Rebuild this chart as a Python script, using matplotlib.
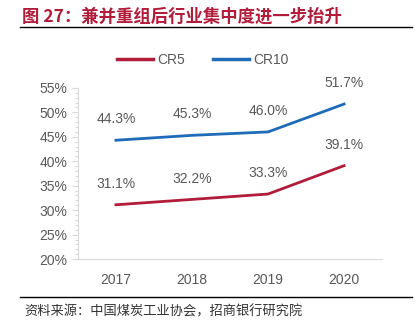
import matplotlib
matplotlib.use("Agg")
import matplotlib.pyplot as plt
from matplotlib.ticker import MultipleLocator, FuncFormatter
from matplotlib.lines import Line2D

plt.rcParams['font.family'] = ['Liberation Sans', 'Noto Sans CJK SC', 'DejaVu Sans']

# --- 数据 ---
years = ["2017", "2018", "2019", "2020"]
cr5 = [31.1, 32.2, 33.3, 39.1]
cr10 = [44.3, 45.3, 46.0, 51.7]

RED = "#B01C3A"
BLUE = "#1F6BB8"
GREY = "#595959"

fig = plt.figure(figsize=(4.19, 3.33), dpi=100)
ax = fig.add_axes([0.186, 0.222, 0.726, 0.514])

x = list(range(len(years)))
ax.plot(x, cr5, color=RED, lw=2, label="CR5")
ax.plot(x, cr10, color=BLUE, lw=2, label="CR10")

for xi, v in zip(x, cr5):
    ax.annotate(f"{v:.1f}%", (xi, v), xytext=(0, 10), textcoords="offset points",
                ha="center", va="bottom", fontsize=10, color=GREY)
for xi, v in zip(x, cr10):
    ax.annotate(f"{v:.1f}%", (xi, v), xytext=(0, 10), textcoords="offset points",
                ha="center", va="bottom", fontsize=10, color=GREY)

ax.set_xlim(-0.5, 3.5)
ax.set_ylim(20, 55)
ax.set_xticks(x)
ax.set_xticklabels(years)
ax.yaxis.set_major_locator(MultipleLocator(5))
ax.yaxis.set_minor_locator(MultipleLocator(1))
ax.yaxis.set_major_formatter(FuncFormatter(lambda v, p: f"{v:.0f}%"))
ax.tick_params(axis="y", which="both", colors="#D9D9D9", labelcolor=GREY, labelsize=10, length=4, width=0.8)
ax.tick_params(axis="y", which="minor", length=2)
ax.tick_params(axis="x", length=0, labelcolor=GREY, labelsize=10, pad=10)
for s in ["top", "right"]:
    ax.spines[s].set_visible(False)
ax.spines["left"].set_color("#D9D9D9")
ax.spines["bottom"].set_color("#D9D9D9")

fig.legend(handles=[Line2D([], [], color=RED, lw=2.5), Line2D([], [], color=BLUE, lw=2.5)],
           labels=["CR5", "CR10"], loc="center", bbox_to_anchor=(203 / 419, 1 - 60 / 333),
           ncol=2, frameon=False, fontsize=10, labelcolor=GREY, handlelength=2.6, columnspacing=2.0,
           handletextpad=0.3)

fig.text(22 / 419, 1 - 17 / 333, "图 27：兼并重组后行业集中度进一步抬升", fontsize=12.5, fontweight="bold",
         color=RED, family=['Noto Sans CJK SC', 'DejaVu Sans'], va="center", ha="left")
fig.add_artist(Line2D([20 / 419, 412 / 419], [1 - 27 / 333, 1 - 27 / 333], color="black", lw=1))
fig.add_artist(Line2D([20 / 419, 412 / 419], [1 - 297 / 333, 1 - 297 / 333], color="black", lw=1))
fig.text(24 / 419, 1 - 312 / 333, "资料来源：中国煤炭工业协会，招商银行研究院", fontsize=9.5,
         color="#333333", family=['Noto Sans CJK SC', 'DejaVu Sans'], va="center", ha="left")

fig.savefig("out.png", dpi=100)
